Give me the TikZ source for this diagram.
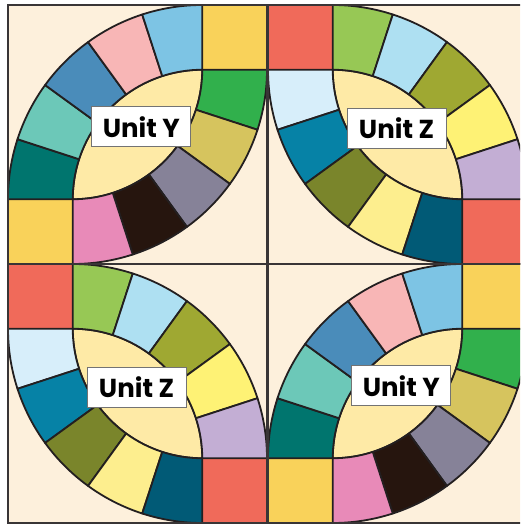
\documentclass[tikz,border=0pt]{standalone}
\usepackage{fontspec}
\newfontfamily\labfont{Poppins}
\definecolor{cream}{HTML}{FDF0DC}
\definecolor{lens}{HTML}{FEEAA6}
\definecolor{lc}{HTML}{231F20}
\definecolor{sqY}{HTML}{F9D25A}
\definecolor{sqR}{HTML}{F06A5A}
% tile Y, upper-left band
\definecolor{ya1}{HTML}{00756E}
\definecolor{ya2}{HTML}{6CC8B8}
\definecolor{ya3}{HTML}{4A8CBA}
\definecolor{ya4}{HTML}{F8B6B6}
\definecolor{ya5}{HTML}{7DC4E4}
% tile Y, lower-right band
\definecolor{yb1}{HTML}{31B04C}
\definecolor{yb2}{HTML}{D6C45E}
\definecolor{yb3}{HTML}{868298}
\definecolor{yb4}{HTML}{26150E}
\definecolor{yb5}{HTML}{E88AB8}
% tile Z, upper-right band
\definecolor{za1}{HTML}{97C855}
\definecolor{za2}{HTML}{AEE0F2}
\definecolor{za3}{HTML}{9FA832}
\definecolor{za4}{HTML}{FEF275}
\definecolor{za5}{HTML}{C3AED4}
% tile Z, lower-left band
\definecolor{zb1}{HTML}{D7EEFA}
\definecolor{zb2}{HTML}{0682A6}
\definecolor{zb3}{HTML}{7A852B}
\definecolor{zb4}{HTML}{FDEE8E}
\definecolor{zb5}{HTML}{015A76}
\tikzset{
  seg/.style={draw=lc, line width=1.8pt, line join=round},
  tileframe/.style={draw=lc!90!white, line width=2pt},
  unitlabel/.style={draw=black!55, line width=1pt, fill=white, minimum width=99pt,
    minimum height=40pt, inner sep=0pt, font=\labfont\bfseries\fontsize{26}{30}\selectfont}
}
\newcommand\tileY[3]{%
  \begin{scope}[shift={(#1pt,#2pt)}, x=64.75pt, y=64.75pt]
    \fill[cream] (0,0) rectangle (4,4);
    \draw[seg, fill=sqY] (3,3) rectangle (4,4);
    \draw[seg, fill=sqY] (0,0) rectangle (1,1);
    \draw[seg, fill=lens] (1,1) arc[start angle=180, end angle=90, radius=2]
      arc[start angle=0, end angle=-90, radius=2] -- cycle;
    \foreach \c [count=\i from 0] in {ya1,ya2,ya3,ya4,ya5}{
      \pgfmathsetmacro\aa{180-18*\i}
      \pgfmathsetmacro\bb{\aa-18}
      \draw[seg, fill=\c, shift={(3,1)}] (\aa:2) -- (\aa:3)
        arc[start angle=\aa, end angle=\bb, radius=3] -- (\bb:2)
        arc[start angle=\bb, end angle=\aa, radius=2] -- cycle;
    }
    \foreach \c [count=\i from 0] in {yb1,yb2,yb3,yb4,yb5}{
      \pgfmathsetmacro\aa{0-18*\i}
      \pgfmathsetmacro\bb{\aa-18}
      \draw[seg, fill=\c, shift={(1,3)}] (\aa:2) -- (\aa:3)
        arc[start angle=\aa, end angle=\bb, radius=3] -- (\bb:2)
        arc[start angle=\bb, end angle=\aa, radius=2] -- cycle;
    }
    \draw[tileframe] (0,0) rectangle (4,4);
    \node[unitlabel] (#3) at (2.06,2.12) {Unit Y};
  \end{scope}}
\newcommand\tileZ[3]{%
  \begin{scope}[shift={(#1pt,#2pt)}, x=64.75pt, y=64.75pt]
    \fill[cream] (0,0) rectangle (4,4);
    \draw[seg, fill=sqR] (0,3) rectangle (1,4);
    \draw[seg, fill=sqR] (3,0) rectangle (4,1);
    \draw[seg, fill=lens] (1,3) arc[start angle=90, end angle=0, radius=2]
      arc[start angle=-90, end angle=-180, radius=2] -- cycle;
    \foreach \c [count=\i from 0] in {za1,za2,za3,za4,za5}{
      \pgfmathsetmacro\aa{90-18*\i}
      \pgfmathsetmacro\bb{\aa-18}
      \draw[seg, fill=\c, shift={(1,1)}] (\aa:2) -- (\aa:3)
        arc[start angle=\aa, end angle=\bb, radius=3] -- (\bb:2)
        arc[start angle=\bb, end angle=\aa, radius=2] -- cycle;
    }
    \foreach \c [count=\i from 0] in {zb1,zb2,zb3,zb4,zb5}{
      \pgfmathsetmacro\aa{180+18*\i}
      \pgfmathsetmacro\bb{\aa+18}
      \draw[seg, fill=\c, shift={(3,3)}] (\aa:2) -- (\aa:3)
        arc[start angle=\aa, end angle=\bb, radius=3] -- (\bb:2)
        arc[start angle=\bb, end angle=\aa, radius=2] -- cycle;
    }
    \draw[tileframe] (0,0) rectangle (4,4);
    \node[unitlabel] (#3) at (1.985,2.09) {Unit Z};
  \end{scope}}
\begin{document}
\begin{tikzpicture}[x=1pt, y=1pt]
  \useasboundingbox (0,0) rectangle (520,524);
  \clip (0,0) rectangle (520,524);
  \fill[white] (0,0) rectangle (520,524);
  \tileY{8}{260}{labTL}
  \tileZ{268}{260}{labTR}
  \tileZ{8}{1}{labBL}
  \tileY{268}{1}{labBR}
\end{tikzpicture}
\end{document}
